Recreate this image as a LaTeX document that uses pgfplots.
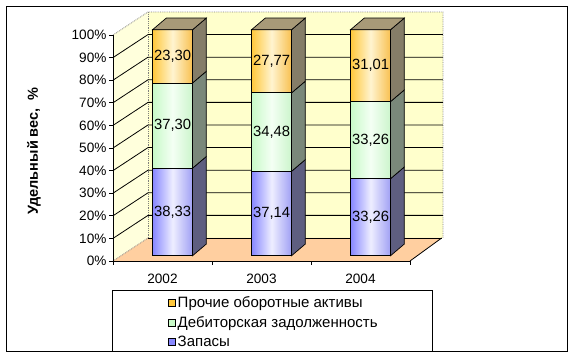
\documentclass[border=0pt]{standalone}
\usepackage{fontspec}
\setmainfont{Liberation Sans}
\usepackage{pgfplots}
\usepackage{pgfplotstable}
\pgfplotsset{compat=1.18}

\definecolor{wallB}{HTML}{FFFFCC}
\definecolor{wallS}{HTML}{FFFFDC}
\definecolor{floorC}{HTML}{FFCFA0}
\definecolor{zapL}{HTML}{8888FF}
\definecolor{zapM}{HTML}{EEEEFF}
\definecolor{zapR}{HTML}{A0A0F4}
\definecolor{zapS}{HTML}{5E5E80}
\definecolor{debL}{HTML}{C8FAC8}
\definecolor{debM}{HTML}{F4FFF4}
\definecolor{debR}{HTML}{CCF5CC}
\definecolor{debS}{HTML}{7A887A}
\definecolor{proL}{HTML}{FFC83C}
\definecolor{proM}{HTML}{FFF4D0}
\definecolor{proR}{HTML}{F8C050}
\definecolor{proS}{HTML}{857D68}
\definecolor{proT}{HTML}{A89A78}
\definecolor{gridG}{HTML}{808080}

\newcommand\tickfont{\fontsize{13.6}{16}\selectfont}
\newcommand\labfont{\fontsize{14.8}{17}\selectfont}
\newcommand\legfont{\fontsize{15}{17}\selectfont}

\pgfplotstableread{
year zap deb pro
2002 38.33 37.30 23.30
2003 37.14 34.48 27.77
2004 33.26 33.26 31.01
}\shares

\def\bb{2.35}\def\bw{0.404}\def\ddx{0.138}\def\ddy{5.13}

\newcommand\facepoly[2]{\edef\temp{\noexpand\addplot[#1,forget plot] coordinates {#2} -- cycle;}\temp}

\newcommand\segment[4]{%
  \pgfmathsetmacro\ya{#1+\ddy}%
  \pgfmathsetmacro\yb{#2+\ddy}%
  \pgfmathsetmacro\ym{(#1+#2)/2}%
  \facepoly{draw=black,line width=0.7pt,fill=#3S}{(\xR,#1) (\xRd,\ya) (\xRd,\yb) (\xR,#2)}%
  \facepoly{draw=black,line width=0.7pt,left color=#3L,right color=#3R,middle color=#3M}{(\xL,#1) (\xR,#1) (\xR,#2) (\xL,#2)}%
  \edef\temp{\noexpand\node[font=\noexpand\labfont,inner sep=0pt] at (axis cs:\xM,\ym) {\noexpand\pgfmathprintnumber[fixed,fixed zerofill,precision=2,use comma]{#4}};}\temp
}

\newcommand\yearbar[2]{%
  \pgfplotstablegetelem{#1}{zap}\of\shares \let\vz\pgfplotsretval
  \pgfplotstablegetelem{#1}{deb}\of\shares \let\vd\pgfplotsretval
  \pgfplotstablegetelem{#1}{pro}\of\shares \let\vp\pgfplotsretval
  \pgfmathsetmacro\sumv{\vz+\vd+\vp}%
  \pgfmathsetmacro\yA{\bb}%
  \pgfmathsetmacro\yB{\bb+\vz/\sumv*100}%
  \pgfmathsetmacro\yC{\bb+(\vz+\vd)/\sumv*100}%
  \pgfmathsetmacro\yD{\bb+100}%
  \pgfmathsetmacro\yE{\bb+100+\ddy}%
  \pgfmathsetmacro\xL{#2}%
  \pgfmathsetmacro\xR{#2+\bw}%
  \pgfmathsetmacro\xM{#2+\bw/2}%
  \pgfmathsetmacro\xRd{#2+\bw+\ddx}%
  \pgfmathsetmacro\xLd{#2+\ddx}%
  \segment{\yA}{\yB}{zap}{\vz}%
  \segment{\yB}{\yC}{deb}{\vd}%
  \segment{\yC}{\yD}{pro}{\vp}%
  \facepoly{draw=black,line width=0.7pt,fill=proT}{(\xL,\yD) (\xR,\yD) (\xRd,\yE) (\xLd,\yE)}%
}

\begin{document}
\begin{tikzpicture}[x=1pt,y=1pt]
\useasboundingbox (0,0) rectangle (575,358);
\fill[white] (0,0) rectangle (575,358);
\begin{axis}[
  at={(113pt,97pt)}, anchor=south west,
  scale only axis, width=297pt, height=226pt,
  xmin=0, xmax=3, ymin=0, ymax=100,
  clip=false, axis on top,
  axis x line*=bottom, axis y line*=left,
  axis line style={black, line width=0.8pt, -},
  ytick={0,10,...,100},
  yticklabel={\pgfmathprintnumber{\tick}\%},
  xtick={0,1,2,3}, xticklabels={},
  extra x ticks={0.5,1.5,2.5}, extra x tick labels={2002,2003,2004},
  extra x tick style={major tick length=0pt, xticklabel style={yshift=-9pt}},
  tick align=outside, major tick length=4pt,
  tick style={black, line width=0.8pt},
  ticklabel style={font=\tickfont},
  yticklabel style={xshift=1pt},
  /pgf/number format/assume math mode=true,
  legend style={at={(0.185,-0.148)}, anchor=north west, draw=none, fill=none,
    font=\legfont, inner sep=0pt, row sep=3.2pt,
    /tikz/every even column/.append style={column sep=2pt}},
  legend cell align=left,
  legend image code/.code={\draw[#1] (0pt,-3.5pt) rectangle (7pt,3.5pt);},
]
% walls and floor
\fill[wallS] (0,0) -- (0.3535,10.18) -- (0.3535,110.18) -- (0,100) -- cycle;
\fill[wallB] (0.3535,10.18) -- (3.333,10.18) -- (3.333,110.18) -- (0.3535,110.18) -- cycle;
\fill[floorC] (0,0) -- (3,0) -- (3.32,10.18) -- (0.3535,10.18) -- cycle;
\draw[gridG, densely dotted, line width=0.8pt] (0,100) -- (0.3535,110.18) -- (3.333,110.18) -- (3.333,10.18);
\draw[gridG, densely dotted, line width=0.8pt] (0.3535,10.18) -- (0.3535,110.18);
\draw[gridG, densely dotted, line width=0.8pt] (0,0) -- (0.3535,10.18);
\draw[black, line width=0.8pt] (0.3535,10.18) -- (3.32,10.18);
\draw[black, line width=0.8pt] (3,0) -- (3.32,10.18);
\foreach \k in {10,20,...,90}{
  \pgfmathsetmacro\kk{\k+10.18}
  \edef\temp{\noexpand\draw[black, line width=0.8pt] (0,\k) -- (0.3535,\kk) -- (3.333,\kk);}\temp
}
% bars
\yearbar{0}{0.40}
\yearbar{1}{1.40}
\yearbar{2}{2.40}
% legend
\addlegendimage{fill=proL,draw=black,line width=0.6pt}
\addlegendentry{Прочие оборотные активы}
\addlegendimage{fill=debL,draw=black,line width=0.6pt}
\addlegendentry{Дебиторская задолженность}
\addlegendimage{fill=zapL,draw=black,line width=0.6pt}
\addlegendentry{Запасы}
\end{axis}
\node[rotate=90, font=\bfseries\fontsize{14.5}{17}\selectfont] at (34,207) {Удельный вес,\ \ \%};
\draw[black, line width=0.8pt] (112,7) rectangle (432,68);
\draw[black, line width=0.8pt] (6,7) rectangle (567,352);
\end{tikzpicture}
\end{document}
